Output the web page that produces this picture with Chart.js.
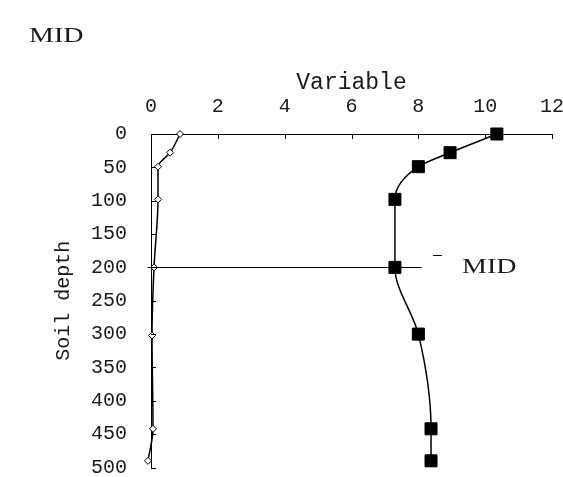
<!DOCTYPE html>
<html>
<head>
<meta charset="utf-8">
<script src="https://cdn.jsdelivr.net/npm/chart.js@4/dist/chart.umd.min.js"></script>
<style>
  html, body { margin: 0; padding: 0; background: #fff; }
  #wrap { width: 563px; height: 477px; position: relative; }
</style>
</head>
<body>
<div id="wrap"><canvas id="chart"></canvas></div>
<script>
// Soil profile data
const depthsFilled = [0, 28, 49, 98, 200, 300, 442, 490];
const valuesFilled = [10.35, 8.95, 8.0, 7.3, 7.3, 8.0, 8.38, 8.38];
const depthsOpen = [0, 28, 49, 98, 200, 302, 442, 490];
const valuesOpen = [0.87, 0.57, 0.21, 0.21, 0.09, 0.03, 0.06, -0.09];
const xTicks = [0, 2, 4, 6, 8, 10, 12];
const yTicks = [0, 50, 100, 150, 200, 250, 300, 350, 400, 450, 500];
const midDepth = 200;
const midLineFrom = -0.1;
const midLineTo = 8.1;
const titleText = 'MID';
const midLabel = 'MID';

Chart.defaults.font = { family: 'Liberation Mono', size: 20 };
Chart.defaults.color = '#1a1a1a';

const toPoints = (xs, ys) => xs.map((v, i) => ({ x: v, y: ys[i] }));

// Inner tick marks, the MID line and the free texts
const extras = {
  id: 'extras',
  afterDraw(chart) {
    const { ctx, chartArea, scales: { x, y } } = chart;
    ctx.save();
    ctx.strokeStyle = '#000';
    ctx.lineWidth = 1;
    ctx.beginPath();
    xTicks.slice(1).forEach(t => {
      const px = Math.round(x.getPixelForValue(t)) + 0.5;
      ctx.moveTo(px, chartArea.top);
      ctx.lineTo(px, chartArea.top + 5);
    });
    yTicks.slice(1).forEach(t => {
      const py = Math.round(y.getPixelForValue(t)) + 0.5;
      ctx.moveTo(chartArea.left, py);
      ctx.lineTo(chartArea.left + 5, py);
    });
    // horizontal MID line
    const my = Math.round(y.getPixelForValue(midDepth)) + 0.5;
    ctx.moveTo(x.getPixelForValue(midLineFrom), my);
    ctx.lineTo(x.getPixelForValue(midLineTo), my);
    // little dash before the label
    ctx.moveTo(433, my - 12);
    ctx.lineTo(442, my - 12);
    ctx.stroke();

    ctx.fillStyle = '#1a1a1a';
    ctx.font = '20px "Liberation Serif"';
    ctx.textBaseline = 'middle';
    ctx.textAlign = 'left';
    ctx.save();
    ctx.translate(462, my);
    ctx.scale(1.4, 1);
    ctx.fillText(midLabel, 0, 0);
    ctx.restore();
    ctx.save();
    ctx.translate(29, 37);
    ctx.scale(1.4, 1);
    ctx.fillText(titleText, 0, 0);
    ctx.restore();
    ctx.restore();
  }
};

new Chart(document.getElementById('chart'), {
  type: 'scatter',
  data: {
    datasets: [
      {
        label: 'filled',
        data: toPoints(valuesFilled, depthsFilled),
        showLine: true,
        borderColor: '#000',
        borderWidth: 1.5,
        cubicInterpolationMode: 'monotone',
        pointStyle: 'rect',
        pointRadius: 8.5,
        pointBackgroundColor: '#000',
        pointBorderColor: '#000',
        pointBorderWidth: 1,
        clip: false
      },
      {
        label: 'open',
        data: toPoints(valuesOpen, depthsOpen),
        showLine: true,
        borderColor: '#000',
        borderWidth: 1.5,
        cubicInterpolationMode: 'monotone',
        pointStyle: 'rectRot',
        pointRadius: 3.5,
        pointBackgroundColor: '#fff',
        pointBorderColor: '#000',
        pointBorderWidth: 1,
        clip: false
      }
    ]
  },
  options: {
    indexAxis: 'y',
    responsive: true,
    maintainAspectRatio: false,
    animation: false,
    layout: { padding: 0 },
    plugins: {
      legend: { display: false },
      tooltip: { enabled: false }
    },
    scales: {
      x: {
        type: 'linear',
        position: 'top',
        min: 0,
        max: 12,
        afterBuildTicks: (scale) => { scale.ticks = xTicks.map(v => ({ value: v })); },
        afterFit: (scale) => {
          scale.height = 134;
          scale.paddingLeft = 0;
          scale.paddingRight = 11;
        },
        grid: { display: false, drawTicks: false },
        border: { display: true, color: '#000', width: 1 },
        ticks: { padding: 15, color: '#1a1a1a' },
        title: {
          display: true,
          text: 'Variable',
          color: '#1a1a1a',
          font: { family: 'Liberation Mono', size: 23 },
          padding: { top: 69, bottom: 0 }
        }
      },
      y: {
        type: 'linear',
        reverse: true,
        min: 0,
        max: 500,
        afterBuildTicks: (scale) => { scale.ticks = yTicks.map(v => ({ value: v })); },
        afterFit: (scale) => {
          scale.width = 151;
          scale.paddingTop = 0;
          scale.paddingBottom = 7;
        },
        grid: { display: false, drawTicks: false },
        border: { display: true, color: '#000', width: 1 },
        ticks: { padding: 24, color: '#1a1a1a' },
        title: {
          display: true,
          text: 'Soil depth',
          color: '#1a1a1a',
          font: { family: 'Liberation Mono', size: 20 },
          padding: { top: 52, bottom: 0 }
        }
      }
    }
  },
  plugins: [extras]
});
</script>
</body>
</html>
